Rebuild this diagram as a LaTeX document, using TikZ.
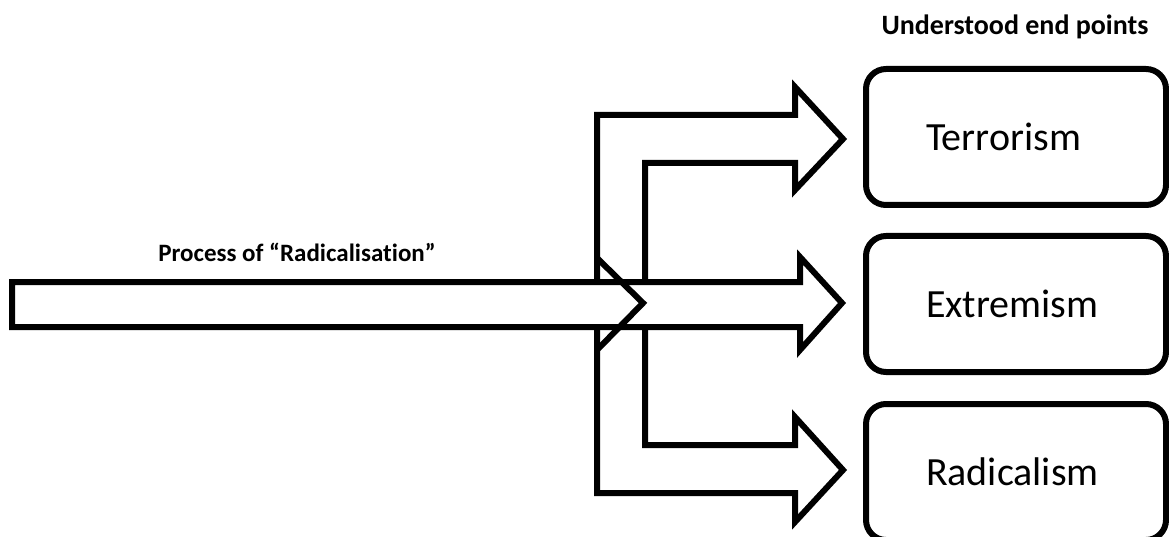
\documentclass[tikz,border=0pt]{standalone}
\usepackage{fontspec}
\setmainfont{Carlito}[Ligatures=NoCommon]
\begin{document}
\begin{tikzpicture}[x=1pt,y=-1pt,
  outline/.style={line width=6pt, line join=miter, miter limit=10},
  endbox/.style={draw, line width=6pt, rounded corners=20pt, minimum width=300pt,
    minimum height=136pt, text width=180pt, align=left, inner sep=0pt,
    font=\fontsize{40}{48}\selectfont},
  heading/.style={font=\bfseries\fontsize{28}{34}\selectfont, inner sep=0pt}]
\useasboundingbox (0,0) rectangle (1169,537);

% long straight arrow: process shaft running on into the middle branch
\draw[outline] (800,282) -- (12,282) -- (12,327) -- (800,327) -- (800,350)
  -- (842,303) -- (800,257) -- cycle;
% head of the process arrow
\draw[outline] (597,258) -- (643,303) -- (597,350);
% upper bent branch
\draw[outline] (597,282) -- (597,115) -- (795,115) -- (795,87) -- (843,139)
  -- (795,190) -- (795,163) -- (645,163) -- (645,282);
% lower bent branch
\draw[outline] (597,327) -- (597,493) -- (795,493) -- (795,522) -- (843,470)
  -- (795,417) -- (795,445) -- (645,445) -- (645,327);

% end points
\node[endbox] (terror) at (1016,137) {Terrorism};
\node[endbox] (extrem) at (1016,304) {Extremism};
\node[endbox] (radical) at (1016,472) {Radicalism};

% headings
\node[heading] (endlabel) at (1015,27) {Understood end points};
\node[heading, font=\bfseries\fontsize{25}{30}\selectfont] (proclabel) at (297,252)
  {Process of “Radicalisation”};
\end{tikzpicture}
\end{document}
